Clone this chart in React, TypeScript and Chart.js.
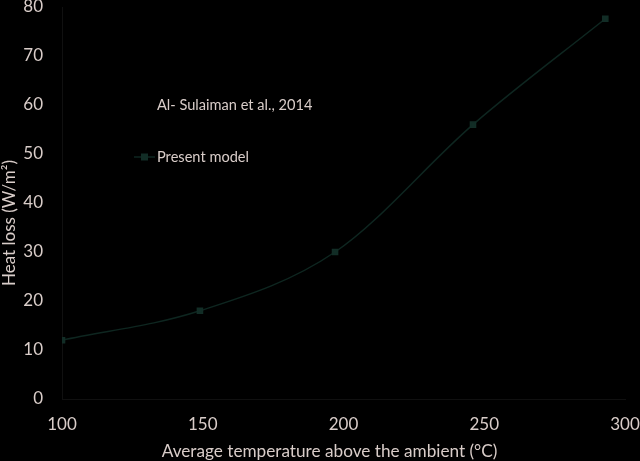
import React, { useEffect, useRef } from "react";
import { Chart, registerables } from "chart.js";

Chart.register(...registerables);

// Data
const temperatures: number[] = [100, 149, 197, 246, 293];
const presentModel: number[] = [12, 18, 30, 56, 77.6];
const alSulaimanTemps: number[] = [];
const alSulaimanValues: number[] = [];
const seriesLabels: string[] = ["Al- Sulaiman et al., 2014", "Present model"];
const xTitle = "Average temperature above the ambient (°C)";
const yTitle = "Heat loss (W/m²)";

const TEXT = "#d9cdc9";
const LINE = "#0e2620";
const MARK = "#122d26";
const FONT = "Lato";

const overlayPlugin = {
  id: "insideLegend",
  afterDraw(chart: any) {
    const ctx = chart.ctx as CanvasRenderingContext2D;
    const rows = [105, 157];
    ctx.save();
    chart.data.datasets.forEach((ds: any, i: number) => {
      const y = rows[i];
      const visible = ds.data.length > 0 && ds.showLine !== false;
      if (visible) {
        ctx.strokeStyle = ds.borderColor;
        ctx.lineWidth = 1.5;
        ctx.beginPath();
        ctx.moveTo(134, y);
        ctx.lineTo(155, y);
        ctx.stroke();
        ctx.fillStyle = ds.pointBackgroundColor;
        ctx.fillRect(141, y - 3.5, 7, 7);
      }
      ctx.fillStyle = TEXT;
      ctx.font = `14.6px ${FONT}`;
      ctx.textBaseline = "middle";
      ctx.textAlign = "left";
      ctx.fillText(ds.label, 157, y);
    });
    // x-axis title
    ctx.font = `17.2px ${FONT}`;
    ctx.textAlign = "center";
    ctx.textBaseline = "middle";
    ctx.fillStyle = TEXT;
    ctx.fillText(xTitle, 329.5, 451);
    // y-axis title
    ctx.translate(10, 223);
    ctx.rotate(-Math.PI / 2);
    ctx.font = `17px ${FONT}`;
    ctx.fillText(yTitle, 0, 0);
    ctx.restore();
  },
};

export default function App() {
  const ref = useRef<HTMLCanvasElement | null>(null);
  useEffect(() => {
    document.body.style.margin = "0";
    document.body.style.background = "#000";
    const chart = new Chart(ref.current!, {
      type: "line",
      data: {
        datasets: [
          {
            label: seriesLabels[0],
            data: alSulaimanTemps.map((x, i) => ({ x, y: alSulaimanValues[i] })),
            borderColor: "#000",
            backgroundColor: "#000",
            pointBackgroundColor: "#000",
            showLine: false,
          },
          {
            label: seriesLabels[1],
            data: temperatures.map((x, i) => ({ x, y: presentModel[i] })),
            borderColor: LINE,
            backgroundColor: MARK,
            pointBackgroundColor: MARK,
            pointBorderColor: MARK,
            pointStyle: "rect",
            pointRadius: 3.6,
            borderWidth: 1.5,
            cubicInterpolationMode: "monotone",
          },
        ],
      },
      options: {
        animation: false,
        responsive: false,
        maintainAspectRatio: false,
        plugins: { legend: { display: false }, tooltip: { enabled: false } },
        layout: { padding: 0 },
        scales: {
          x: {
            type: "linear",
            min: 100,
            max: 300,
            ticks: { stepSize: 50, color: TEXT, font: { family: FONT, size: 17 }, padding: 15 },
            grid: { display: false, drawTicks: false },
            border: { color: "#101010", width: 1 },
            title: { display: false },
            afterFit(scale: any) {
              scale.height = 62;
              scale.paddingLeft = 0;
              scale.paddingRight = 15;
            },
          },
          y: {
            min: 0,
            max: 80,
            ticks: { stepSize: 10, color: TEXT, font: { family: FONT, size: 17 }, padding: 19 },
            grid: { display: false, drawTicks: false },
            border: { color: "#101010", width: 1 },
            title: { display: false },
            afterFit(scale: any) {
              scale.width = 62;
              scale.paddingTop = 7;
              scale.paddingBottom = 0;
            },
          },
        },
      },
      plugins: [overlayPlugin],
    } as any);
    return () => chart.destroy();
  }, []);
  return (
    <div style={{ position: "fixed", left: 0, top: 0, width: 640, height: 461, background: "#000" }}>
      <canvas ref={ref} width={640} height={461} style={{ width: 640, height: 461 }} />
    </div>
  );
}
